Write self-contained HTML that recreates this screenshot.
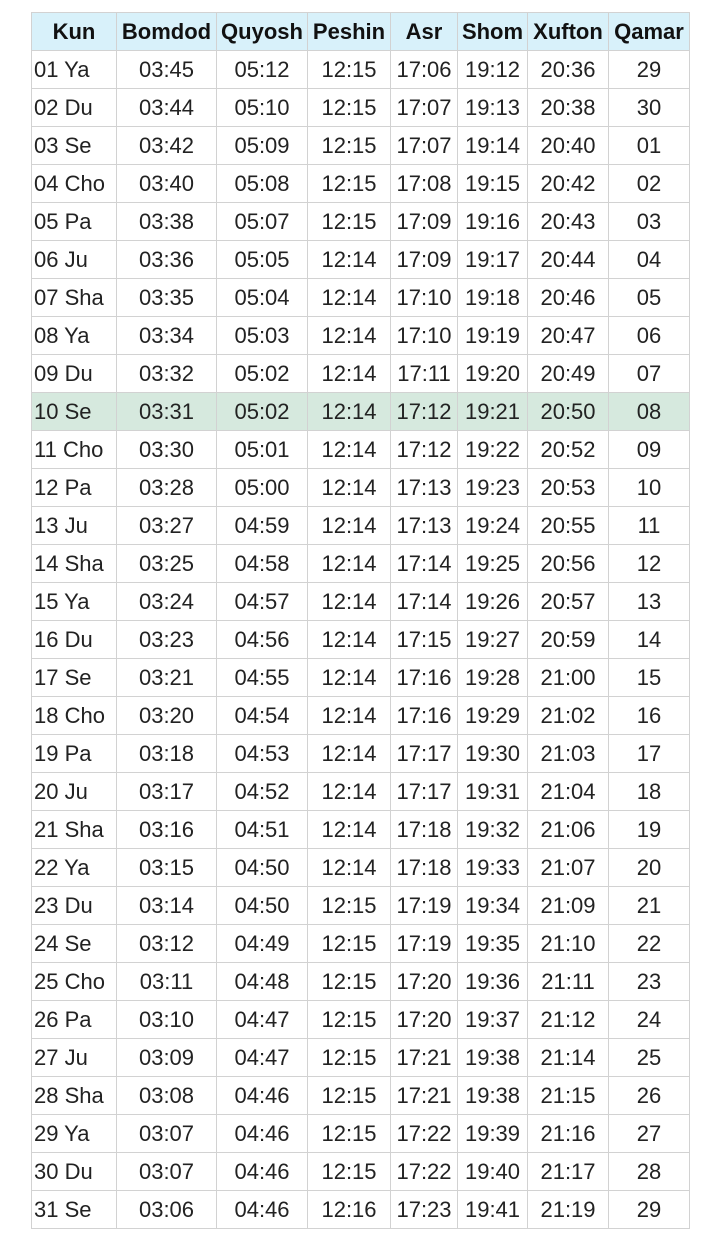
<!DOCTYPE html>
<html><head><meta charset="utf-8"><style>
body{margin:0;width:720px;height:1243px;background:#fff;position:relative;font-family:"Liberation Sans",sans-serif;overflow:hidden}
.c{position:absolute;box-sizing:border-box;border:1px solid #d2d2d2;display:flex;align-items:center;justify-content:center;font-size:22px;color:#222}
.h{background:#d8f1fa;font-weight:bold;color:#111}
.l{justify-content:flex-start;padding-left:2px}
.g{background:#d6e9de}
</style></head><body>
<div id="t"></div>
<script>
const headers=["Kun","Bomdod","Quyosh","Peshin","Asr","Shom","Xufton","Qamar"];
const days=["01 Ya","02 Du","03 Se","04 Cho","05 Pa","06 Ju","07 Sha","08 Ya","09 Du","10 Se","11 Cho","12 Pa","13 Ju","14 Sha","15 Ya","16 Du","17 Se","18 Cho","19 Pa","20 Ju","21 Sha","22 Ya","23 Du","24 Se","25 Cho","26 Pa","27 Ju","28 Sha","29 Ya","30 Du","31 Se"];
const bomdod=["03:45","03:44","03:42","03:40","03:38","03:36","03:35","03:34","03:32","03:31","03:30","03:28","03:27","03:25","03:24","03:23","03:21","03:20","03:18","03:17","03:16","03:15","03:14","03:12","03:11","03:10","03:09","03:08","03:07","03:07","03:06"];
const quyosh=["05:12","05:10","05:09","05:08","05:07","05:05","05:04","05:03","05:02","05:02","05:01","05:00","04:59","04:58","04:57","04:56","04:55","04:54","04:53","04:52","04:51","04:50","04:50","04:49","04:48","04:47","04:47","04:46","04:46","04:46","04:46"];
const peshin=["12:15","12:15","12:15","12:15","12:15","12:14","12:14","12:14","12:14","12:14","12:14","12:14","12:14","12:14","12:14","12:14","12:14","12:14","12:14","12:14","12:14","12:14","12:15","12:15","12:15","12:15","12:15","12:15","12:15","12:15","12:16"];
const asr=["17:06","17:07","17:07","17:08","17:09","17:09","17:10","17:10","17:11","17:12","17:12","17:13","17:13","17:14","17:14","17:15","17:16","17:16","17:17","17:17","17:18","17:18","17:19","17:19","17:20","17:20","17:21","17:21","17:22","17:22","17:23"];
const shom=["19:12","19:13","19:14","19:15","19:16","19:17","19:18","19:19","19:20","19:21","19:22","19:23","19:24","19:25","19:26","19:27","19:28","19:29","19:30","19:31","19:32","19:33","19:34","19:35","19:36","19:37","19:38","19:38","19:39","19:40","19:41"];
const xufton=["20:36","20:38","20:40","20:42","20:43","20:44","20:46","20:47","20:49","20:50","20:52","20:53","20:55","20:56","20:57","20:59","21:00","21:02","21:03","21:04","21:06","21:07","21:09","21:10","21:11","21:12","21:14","21:15","21:16","21:17","21:19"];
const qamar=["29","30","01","02","03","04","05","06","07","08","09","10","11","12","13","14","15","16","17","18","19","20","21","22","23","24","25","26","27","28","29"];
const highlight=9;
const xs=[31,116,216,307,390,457,527,608,689];
const top0=12,hh=38,rh=38;
const t=document.getElementById('t');
function cell(txt,i,y,h,cls,name){
  const d=document.createElement('div');
  d.className='c '+cls;
  d.style.left=xs[i]+'px';d.style.top=y+'px';
  d.style.width=(xs[i+1]-xs[i]+1)+'px';d.style.height=(h+1)+'px';
  d.textContent=txt;
  
  
  t.appendChild(d);
}
headers.forEach((h,i)=>cell(h,i,top0,hh,'h','header-'+h.toLowerCase()));
const cols=[days,bomdod,quyosh,peshin,asr,shom,xufton,qamar];
for(let r=0;r<days.length;r++){
  const y=top0+hh+r*rh;
  cols.forEach((col,i)=>cell(col[r],i,y,rh,(i==0?'l ':'')+(r==highlight?'g':''),headers[i].toLowerCase()+'-cell'));
}
</script>
</body></html>
